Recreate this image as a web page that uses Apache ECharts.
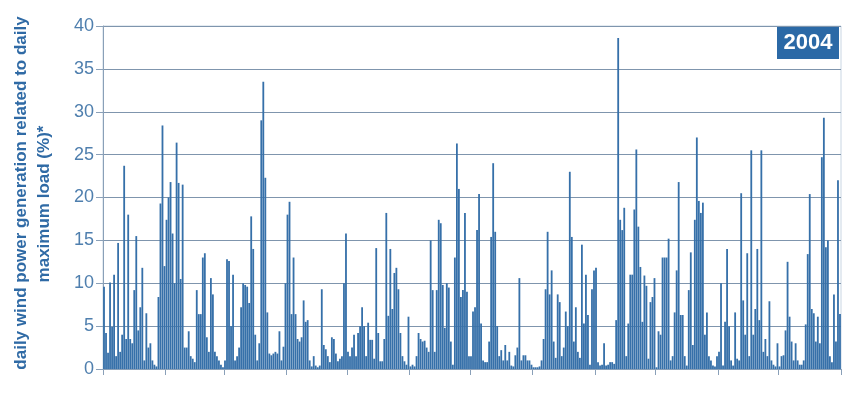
<!DOCTYPE html>
<html>
<head>
<meta charset="utf-8">
<script src="https://cdn.jsdelivr.net/npm/echarts@6/dist/echarts.min.js"></script>
<style>html,body{margin:0;padding:0;background:#fff}#c{width:850px;height:396px}</style>
</head>
<body>
<div id="c"></div>
<script>
// Daily values per month, 2004 (leap year), % of daily max load
const jan = [9.6, 4.2, 1.9, 10.1, 4.9, 11.0, 1.5, 14.7, 2.0, 4.0, 23.7, 3.5, 18.0, 3.5, 3.0, 9.2, 15.5, 4.5, 7.2, 11.8, 1.0, 6.5, 2.5, 3.0, 1.0, 0.5, 0.3, 8.4, 19.3, 28.4, 12.0];
const feb = [17.4, 20.0, 21.8, 15.8, 10.0, 26.4, 21.7, 10.5, 21.5, 2.5, 2.5, 4.4, 1.5, 1.2, 0.8, 9.2, 6.4, 6.4, 13.0, 13.5, 3.7, 2.0, 10.6, 8.7, 2.0, 1.5, 1.0, 0.5, 0.2];
const mar = [1.0, 12.8, 12.6, 5.0, 11.0, 1.0, 1.5, 2.5, 7.2, 10.0, 9.8, 9.6, 7.7, 17.8, 14.0, 4.0, 1.0, 3.0, 29.0, 33.5, 22.3, 6.6, 1.8, 1.6, 1.8, 2.0, 1.8, 4.4, 1.0, 2.6, 10.0];
const apr = [18.0, 19.5, 6.4, 13.0, 6.4, 3.5, 3.2, 3.7, 8.0, 5.5, 5.7, 1.0, 0.3, 1.5, 0.4, 0.2, 0.4, 9.3, 2.8, 2.3, 1.5, 0.8, 3.7, 3.5, 1.8, 0.9, 1.2, 1.5, 10.0, 15.8];
const may = [2.0, 1.5, 2.5, 4.0, 1.5, 4.2, 5.0, 7.2, 5.0, 1.5, 5.4, 3.4, 3.4, 1.2, 14.1, 4.2, 0.9, 0.9, 3.5, 18.2, 6.2, 14.0, 7.0, 11.2, 11.8, 9.3, 4.2, 1.5, 0.9, 0.5, 6.1];
const jun = [0.3, 0.5, 0.3, 1.5, 4.2, 3.5, 3.2, 3.3, 2.5, 2.0, 15.0, 9.2, 2.0, 9.2, 17.4, 17.0, 9.8, 4.8, 10.0, 9.5, 3.2, 0.5, 13.0, 26.3, 21.0, 8.4, 9.2, 18.2, 9.0, 1.5];
const jul = [1.5, 6.7, 7.2, 16.2, 20.4, 5.3, 1.0, 0.8, 0.8, 3.2, 15.4, 24.0, 16.0, 5.0, 1.5, 2.2, 1.0, 2.8, 1.0, 2.0, 0.4, 0.3, 1.6, 2.5, 10.6, 1.0, 1.6, 1.6, 1.0, 1.0, 0.5];
const aug = [0.2, 0.2, 0.2, 0.3, 1.0, 3.5, 9.3, 16.0, 8.7, 11.5, 3.2, 1.3, 8.7, 7.8, 1.5, 2.5, 6.7, 5.0, 23.0, 15.4, 3.2, 7.2, 2.0, 1.3, 14.5, 5.3, 11.0, 6.3, 0.5, 9.3, 11.5];
const sep = [11.8, 0.8, 0.4, 0.5, 3.0, 0.4, 0.5, 0.8, 0.8, 0.6, 5.7, 38.6, 17.4, 16.2, 18.8, 1.5, 5.3, 11.0, 11.0, 18.6, 25.6, 16.6, 11.9, 5.5, 10.9, 9.7, 1.2, 7.8, 8.4, 10.6];
const oct = [0.2, 4.4, 4.0, 13.0, 13.0, 13.0, 15.2, 1.0, 1.5, 6.6, 11.5, 21.8, 6.3, 6.3, 1.5, 0.4, 9.2, 13.6, 2.8, 17.4, 27.0, 19.6, 18.2, 19.4, 4.0, 6.6, 1.5, 1.0, 0.4, 0.3, 1.5];
const nov = [2.0, 10.0, 0.4, 5.5, 14.0, 5.0, 1.0, 0.4, 6.6, 1.2, 1.0, 20.5, 8.0, 4.0, 13.5, 1.5, 25.5, 4.0, 7.0, 14.0, 5.7, 25.5, 2.0, 3.5, 1.5, 7.9, 1.0, 0.5, 0.3, 3.0];
const dec = [0.3, 1.5, 1.6, 4.5, 12.5, 6.1, 3.2, 1.0, 3.0, 1.0, 0.5, 0.5, 1.0, 5.2, 13.4, 20.4, 7.0, 6.5, 3.2, 6.1, 3.0, 24.7, 29.3, 14.2, 15.0, 1.5, 0.8, 8.7, 3.2, 22.0, 6.4];

const months = [jan, feb, mar, apr, may, jun, jul, aug, sep, oct, nov, dec];
const yearLabel = '2004';
const yTitle1 = 'daily wind power generation related to daily';
const yTitle2 = 'maximum load (%)*';

const values = [].concat(...months);
const days = values.map((v, i) => 'd' + (i + 1));
const monthStarts = new Set();
let acc = 0;
months.forEach(m => { monthStarts.add(acc); acc += m.length; });
monthStarts.add(acc);

const chart = echarts.init(document.getElementById('c'), null, {renderer: 'canvas'});
const axisBlue = '#4f7fae';
chart.setOption({
  animation: false,
  backgroundColor: '#ffffff',
  grid: {left: 103, right: 9, top: 26, bottom: 27, show: true, borderColor: '#c9d6e3', borderWidth: 1},
  xAxis: {
    type: 'category',
    data: days,
    boundaryGap: true,
    axisLine: {lineStyle: {color: '#8aa0b8', width: 1}},
    axisTick: {show: true, length: 6, lineStyle: {color: '#8aa0b8'}, interval: (i) => monthStarts.has(i)},
    axisLabel: {show: false},
    splitLine: {show: false}
  },
  yAxis: {
    type: 'value',
    min: 0, max: 40, interval: 5,
    axisLine: {show: true, lineStyle: {color: '#8aa0b8', width: 1}},
    axisTick: {show: true, length: 7, lineStyle: {color: '#8aa0b8'}},
    axisLabel: {color: axisBlue, fontSize: 18, fontFamily: 'Liberation Sans, Arial, sans-serif', margin: 9},
    splitLine: {lineStyle: {color: '#7f95ad', width: 1}}
  },
  series: [{
    type: 'bar',
    data: values,
    barCategoryGap: '10%',
    itemStyle: {color: '#3670a9'}
  }],
  graphic: [
    {type: 'rect', shape: {x: 777, y: 27, width: 62, height: 32}, style: {fill: '#2b69a6'}},
    {type: 'text', x: 808, y: 43, style: {text: yearLabel, fill: '#ffffff', font: 'bold 22px "Liberation Sans", Arial, sans-serif', align: 'center', verticalAlign: 'middle'}},
    {type: 'text', x: 21, y: 193, rotation: Math.PI / 2, style: {text: yTitle1, fill: '#2f6aa5', font: 'bold 17px "Liberation Sans", Arial, sans-serif', align: 'center', verticalAlign: 'middle'}},
    {type: 'text', x: 44, y: 204, rotation: Math.PI / 2, style: {text: yTitle2, fill: '#2f6aa5', font: 'bold 17px "Liberation Sans", Arial, sans-serif', align: 'center', verticalAlign: 'middle'}}
  ]
});
</script>
</body>
</html>
